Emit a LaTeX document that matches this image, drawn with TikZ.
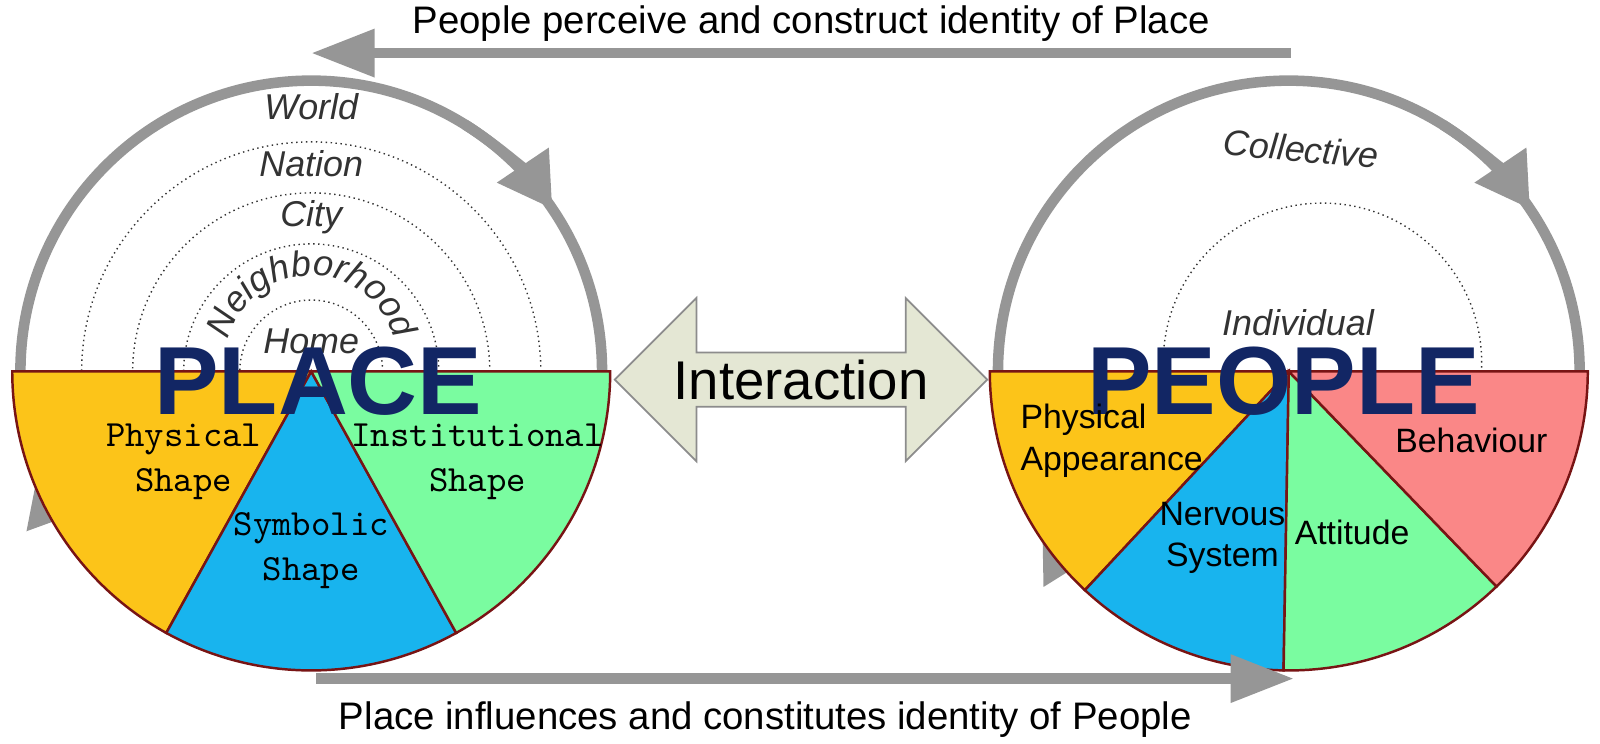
\documentclass[tikz,border=0pt]{standalone}
\usepackage{fontspec}
\setsansfont{Liberation Sans}
\usetikzlibrary{arrows.meta,shapes.arrows,decorations.text}
\definecolor{ringgray}{RGB}{150,150,150}
\definecolor{secorange}{RGB}{252,196,25}
\definecolor{secblue}{RGB}{24,180,238}
\definecolor{secgreen}{RGB}{122,252,160}
\definecolor{secpink}{RGB}{250,135,135}
\definecolor{secline}{RGB}{120,20,20}
\definecolor{navy}{RGB}{18,38,100}
\definecolor{beige}{RGB}{228,231,212}
\tikzset{
  ring/.style={draw=ringgray, line width=3pt},
  ringtip/.style={ring, -{Triangle[length=15pt,width=17pt]}},
  flow/.style={draw=ringgray, line width=3pt, -{Triangle[length=18pt,width=13pt]}},
  dotring/.style={draw=black!80, densely dotted, line width=0.4pt},
  sector/.style={draw=secline, line width=0.7pt},
  levellabel/.style={font=\sffamily\itshape\fontsize{10.2}{11}\selectfont, text=black!80},
  monolabel/.style={font=\ttfamily\fontsize{10.5}{12.8}\selectfont, align=center},
  sanslabel/.style={font=\sffamily\fontsize{9.6}{11.7}\selectfont, align=center},
  bigword/.style={font=\sffamily\bfseries\fontsize{27.5}{30}\selectfont, text=navy},
  caption/.style={font=\sffamily\fontsize{10.9}{12}\selectfont}
}
\begin{document}
\begin{tikzpicture}[x=0.0102cm,y=0.0102cm]
	\useasboundingbox (0,0) rectangle (1568,729);
	\begin{scope}[yshift=-0.153cm]
	\coordinate (place) at (305,380);
	\coordinate (people) at (1263,380);

	% rings
	\draw[ring] (place) circle[radius=285];
	\draw[ringtip] (place) ++(58:285) arc[start angle=58, end angle=34, radius=285];
	\draw[ringtip] (place) ++(222:285) arc[start angle=222, end angle=200, radius=285];
	\draw[ring] (people) circle[radius=285];
	\draw[ringtip] (people) ++(58:285) arc[start angle=58, end angle=34, radius=285];
	\draw[ringtip] (people) ++(228:285) arc[start angle=228, end angle=212, radius=285];

	\foreach \r in {70,125,175,225}
		\draw[dotring] (place) circle[radius=\r];
	\draw[dotring] (1296,389) circle[radius=156];

	% sectors
	\filldraw[sector, fill=secorange] (place) -- ++(180:293) arc[start angle=180, end angle=241, radius=293] -- cycle;
	\filldraw[sector, fill=secblue] (place) -- ++(241:293) arc[start angle=241, end angle=299, radius=293] -- cycle;
	\filldraw[sector, fill=secgreen] (place) -- ++(299:293) arc[start angle=299, end angle=360, radius=293] -- cycle;
	\filldraw[sector, fill=secorange] (people) -- ++(180:293) arc[start angle=180, end angle=227, radius=293] -- cycle;
	\filldraw[sector, fill=secblue] (people) -- ++(227:293) arc[start angle=227, end angle=269, radius=293] -- cycle;
	\filldraw[sector, fill=secgreen] (people) -- ++(269:293) arc[start angle=269, end angle=314, radius=293] -- cycle;
	\filldraw[sector, fill=secpink] (people) -- ++(314:293) arc[start angle=314, end angle=360, radius=293] -- cycle;

	% level labels
	\node[levellabel] (world) at (305,639) {World};
	\node[levellabel] (nation) at (305,584) {Nation};
	\node[levellabel] (city) at (305,531) {City};
	\path[overlay, decorate, decoration={text along path, text align=center,
		text={|\sffamily\itshape\fontsize{10.2}{11}\selectfont\color{black!80}|Neighborhood}}]
		(305,390) ++(165:84) arc[start angle=165, end angle=15, radius=84];
	\node[levellabel] (home) at (305,410) {Home};
	\node[levellabel, rotate=-5] (collective) at (1275,598) {Collective};
	\node[levellabel] (individual) at (1272,428) {Individual};

	\node[bigword] (placeword) at (312,370) {PLACE};
	\node[bigword] (peopleword) at (1258,370) {PEOPLE};

	% sector labels
	\node[monolabel] (physshape) at (180,291) {Physical\\Shape};
	\node[monolabel] (instshape) at (468,291) {Institutional\\Shape};
	\node[monolabel] (symbshape) at (305,204) {Symbolic\\Shape};
	\node[sanslabel, align=left, anchor=west] (physapp) at (988,312) {Physical\\Appearance};
	\node[sanslabel] (behaviour) at (1442,312) {Behaviour};
	\node[sanslabel] (nervous) at (1198,217) {Nervous\\System};
	\node[sanslabel] (attitude) at (1325,222) {Attitude};

	% interaction
	\node[double arrow, draw=black!45, fill=beige, line width=0.5pt,
		minimum width=1.63cm, minimum height=3.72cm, double arrow head extend=0.42cm,
		inner sep=0pt, font=\sffamily\fontsize{15.5}{17}\selectfont] (interaction) at (785,372) {Interaction};

	% flows
	\coordinate (topstart) at (1265,692);
	\coordinate (topend) at (305,692);
	\coordinate (botstart) at (310,79);
	\coordinate (botend) at (1268,79);
	\draw[flow] (topstart) -- (topend);
	\draw[flow] (botstart) -- (botend);
	\node[caption] (perceive) at (795,721) {People perceive and construct identity of Place};
	\node[caption] (influence) at (750,39) {Place influences and constitutes identity of People};
	\end{scope}
\end{tikzpicture}
\end{document}
